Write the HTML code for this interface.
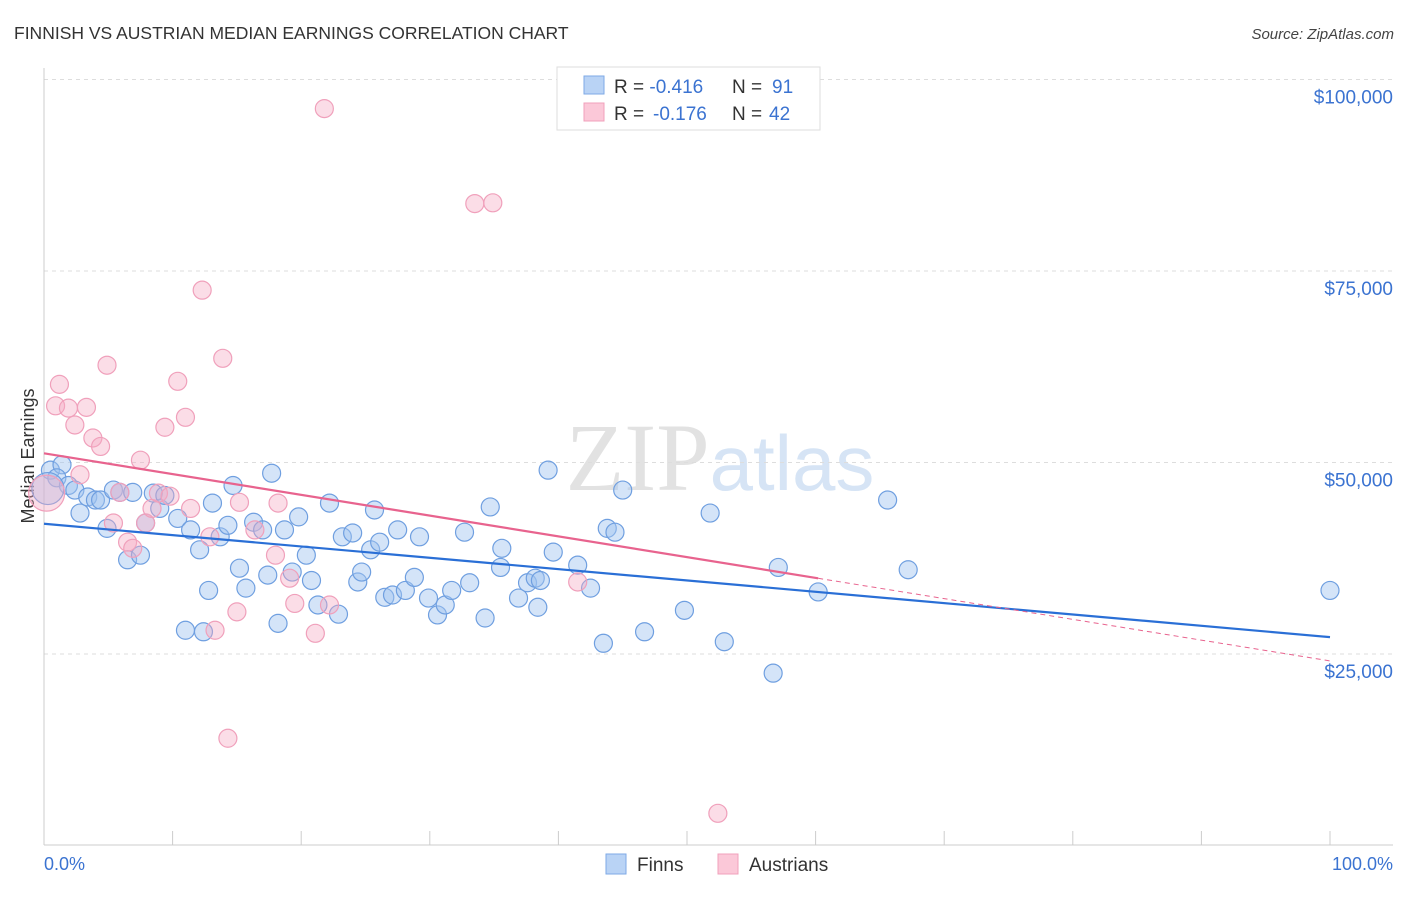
<!DOCTYPE html>
<html><head><meta charset="utf-8"><style>
body{margin:0;background:#fff;font-family:"Liberation Sans",sans-serif;}
svg text{font-family:"Liberation Sans",sans-serif;}
</style></head><body>
<svg id="chart" width="1406" height="892" viewBox="0 0 1406 892" xmlns="http://www.w3.org/2000/svg">
<text x="14" y="39" font-size="17.5" fill="#333">FINNISH VS AUSTRIAN MEDIAN EARNINGS CORRELATION CHART</text>
<text x="1394" y="39" font-size="15" fill="#444" text-anchor="end" font-style="italic">Source: ZipAtlas.com</text>
<text x="720" y="490" font-size="96" text-anchor="middle"><tspan fill="#e2e2e2" font-family="Liberation Serif">ZIP</tspan><tspan fill="#d6e4f5" font-size="78">atlas</tspan></text>
<g id="grid"></g>
<line x1="44" y1="68" x2="44" y2="845" stroke="#ccc" stroke-width="1"/>
<line x1="44" y1="845" x2="1393" y2="845" stroke="#ccc" stroke-width="1"/>
<g id="xticks"></g>
<text transform="translate(34,456) rotate(-90)" font-size="18" fill="#333" text-anchor="middle">Median Earnings</text>
<text x="44" y="870" font-size="18" fill="#3b73d1">0.0%</text>
<text x="1393" y="870" font-size="18" fill="#3b73d1" text-anchor="end">100.0%</text>
<g id="points"></g>
<g id="trends"></g>
<g>
<rect x="557" y="67" width="263" height="63" fill="#fff" stroke="#ddd"/>
<rect x="584" y="76" width="20" height="18" fill="#b9d3f5" stroke="#7eaae6"/>
<rect x="584" y="103" width="20" height="18" fill="#fbc8d8" stroke="#f0a0bb"/>
<text x="614" y="93" font-size="19" fill="#333">R = <tspan fill="#3b73d1">-0.416</tspan><tspan x="732">N = </tspan><tspan fill="#3b73d1" x="772">91</tspan></text>
<text x="614" y="120" font-size="19" fill="#333">R = <tspan fill="#3b73d1" x="653">-0.176</tspan><tspan x="732">N = </tspan><tspan fill="#3b73d1" x="769">42</tspan></text>
</g>
<g>
<rect x="606" y="854" width="20" height="20" fill="#b9d3f5" stroke="#7eaae6"/>
<text x="637" y="871" font-size="19" fill="#333">Finns</text>
<rect x="718" y="854" width="20" height="20" fill="#fbc8d8" stroke="#f0a0bb"/>
<text x="749" y="871" font-size="19" fill="#333">Austrians</text>
</g>
</svg>
<script>
const yTicks=[25000,50000,75000,100000];
const yTickLabels=["$25,000","$50,000","$75,000","$100,000"];
const xTicks=[0,10,20,30,40,50,60,70,80,90,100];
const finnsX=[0.5,1.4,1.0,1.9,2.4,2.8,3.4,4.0,4.4,4.9,5.4,5.9,6.5,6.9,7.5,7.9,8.5,9.0,9.4,10.4,11.0,11.4,12.1,12.4,12.8,13.1,13.7,14.3,14.7,15.2,15.7,16.3,17.0,17.4,17.7,18.2,18.7,19.3,19.8,20.4,20.8,21.3,22.2,22.9,23.2,24.0,24.4,24.7,25.4,25.7,26.1,26.5,27.1,27.5,28.1,28.8,29.2,29.9,30.6,31.2,31.7,32.7,33.1,34.3,34.7,35.5,35.6,36.9,37.6,38.2,38.6,38.4,39.2,39.6,41.5,42.5,43.5,43.8,44.4,45.0,46.7,49.8,51.8,52.9,56.7,57.1,60.2,65.6,67.2,100,0.3];
const finnsY=[49.0,49.7,48.0,47.0,46.4,43.4,45.5,45.1,45.1,41.4,46.4,46.1,37.3,46.1,37.9,42.1,46.0,44.0,45.7,42.7,28.1,41.2,38.6,27.9,33.3,44.7,40.3,41.8,47.0,36.2,33.6,42.2,41.2,35.3,48.6,29.0,41.2,35.7,42.9,37.9,34.6,31.4,44.7,30.2,40.3,40.8,34.4,35.7,38.6,43.8,39.6,32.4,32.7,41.2,33.3,35.0,40.3,32.3,30.1,31.4,33.3,40.9,34.3,29.7,44.2,36.3,38.8,32.3,34.3,34.9,34.6,31.1,49.0,38.3,36.6,33.6,26.4,41.4,40.9,46.4,27.9,30.7,43.4,26.6,22.5,36.3,33.1,45.1,36.0,33.3,46.6];
const austX=[0.2,1.2,0.9,1.9,2.4,3.3,3.8,4.4,2.8,4.9,5.4,5.9,6.5,6.9,7.5,7.9,8.4,8.9,9.4,9.8,10.4,11.0,11.4,12.3,12.9,13.3,13.9,14.3,15.0,15.2,16.4,18.0,18.2,19.1,19.5,21.1,21.8,22.2,33.5,34.9,41.5,52.4];
const austY=[46.0,60.2,57.4,57.1,54.9,57.2,53.2,52.1,48.4,62.7,42.1,46.1,39.6,38.8,50.3,42.1,44.0,46.0,54.6,45.6,60.6,55.9,44.0,72.5,40.3,28.1,63.6,14.0,30.5,44.8,41.2,37.9,44.7,34.9,31.6,27.7,96.2,31.4,83.8,83.9,34.4,4.2];
const finnsTrend=[42.0,27.2];
const austTrend=[51.2,24.1];
const austSolidEnd=60.2;

const NS="http://www.w3.org/2000/svg";
const X=p=>44+p*12.86;
const Y=v=>845.5-v*7.66;
function mk(tag,attrs,parent){const e=document.createElementNS(NS,tag);for(const k in attrs)e.setAttribute(k,attrs[k]);parent.appendChild(e);return e;}
const grid=document.getElementById('grid');
yTicks.forEach((t,i)=>{
  const l=mk('line',{x1:44,x2:1393,y1:Y(t/1000),y2:Y(t/1000),stroke:'#ddd','stroke-dasharray':'4,4'},grid);
  
  
  const tx=mk('text',{x:1393,y:Y(t/1000)+24,'font-size':19,fill:'#3b73d1','text-anchor':'end'},grid);
  tx.textContent=yTickLabels[i];
  
  
});
const xt=document.getElementById('xticks');
xTicks.forEach(t=>{
  const l=mk('line',{x1:X(t),x2:X(t),y1:831,y2:845,stroke:'#ccc'},xt);
  
  
});
const pts=document.getElementById('points');
finnsX.forEach((x,i)=>{
  const c=mk('circle',{cx:X(x),cy:Y(finnsY[i]),r:i===finnsX.length-1?16:9,fill:'rgba(160,196,240,0.45)',stroke:'#6f9fe0','stroke-width':1.2},pts);
  
  
});
austX.forEach((x,i)=>{
  const c=mk('circle',{cx:X(x),cy:Y(austY[i]),r:i===0?18:9,fill:'rgba(245,170,195,0.4)',stroke:'#f0a0bb','stroke-width':1.2},pts);
  
  
});
const tr=document.getElementById('trends');
const bl=mk('line',{x1:X(0),y1:Y(finnsTrend[0]),x2:X(100),y2:Y(finnsTrend[1]),stroke:'#2a6fd6','stroke-width':2.2},tr);


const am=austTrend[0]+(austTrend[1]-austTrend[0])*austSolidEnd/100;
const pl=mk('line',{x1:X(0),y1:Y(austTrend[0]),x2:X(austSolidEnd),y2:Y(am),stroke:'#e8638e','stroke-width':2.2},tr);


const pd=mk('line',{x1:X(austSolidEnd),y1:Y(am),x2:X(100),y2:Y(austTrend[1]),stroke:'#e8638e','stroke-width':1,'stroke-dasharray':'5,4'},tr);


</script>
</body></html>
